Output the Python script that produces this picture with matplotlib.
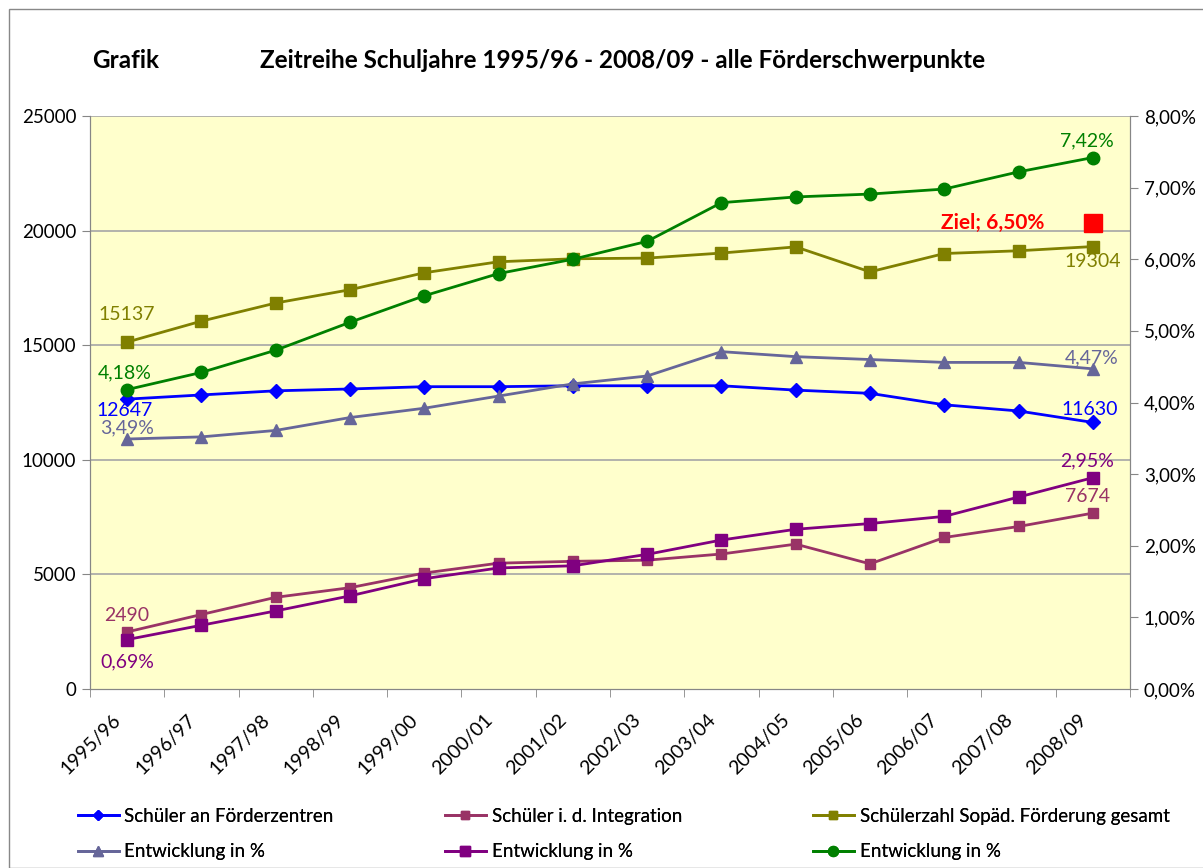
import matplotlib
matplotlib.use("Agg")
import matplotlib.pyplot as plt
from matplotlib.patches import Rectangle
from matplotlib.ticker import FuncFormatter, MultipleLocator, FixedLocator
from matplotlib.transforms import ScaledTranslation

plt.rcParams['font.family'] = ['Lato', 'DejaVu Sans']

years = ["1995/96", "1996/97", "1997/98", "1998/99", "1999/00", "2000/01", "2001/02",
         "2002/03", "2003/04", "2004/05", "2005/06", "2006/07", "2007/08", "2008/09"]
foerderzentren = [12647, 12830, 13010, 13090, 13190, 13190, 13230, 13230, 13230, 13040, 12900, 12400, 12130, 11630]
integration = [2490, 3250, 4000, 4420, 5060, 5490, 5570, 5620, 5890, 6320, 5460, 6610, 7090, 7674]
gesamt = [15137, 16050, 16840, 17420, 18160, 18640, 18770, 18800, 19020, 19290, 18200, 19000, 19120, 19304]
entw_fz = [3.49, 3.52, 3.61, 3.79, 3.92, 4.09, 4.26, 4.37, 4.71, 4.64, 4.60, 4.56, 4.56, 4.47]
entw_int = [0.69, 0.89, 1.09, 1.30, 1.54, 1.69, 1.72, 1.88, 2.08, 2.23, 2.31, 2.41, 2.68, 2.95]
entw_ges = [4.18, 4.42, 4.73, 5.12, 5.49, 5.80, 6.00, 6.25, 6.79, 6.87, 6.91, 6.98, 7.22, 7.42]
ziel_value = 6.50
ziel_index = 13

W, H = 1203, 868
fig = plt.figure(figsize=(W / 100, H / 100), dpi=100)
fig.patch.set_facecolor("white")
fig.add_artist(Rectangle((9 / W, 0), 1.5, 1 - 9 / H, transform=fig.transFigure,
                         fill=False, edgecolor="#888888", lw=1.0))

L, R, T, B = 90, 1130, 116, 689
ax = fig.add_axes([L / W, 1 - B / H, (R - L) / W, (B - T) / H])
ax.set_facecolor("#FFFFCC")
ax2 = ax.twinx()

x = list(range(len(years)))
ax.set_xlim(-0.5, len(years) - 0.5)
ax.set_ylim(0, 25000)
ax2.set_ylim(0, 8)

grid_c = "#A6A6A6"
for v in range(5000, 25001, 5000):
    ax.axhline(v, color=grid_c, lw=1.2, zorder=0)

tick_c = "#868686"
for a in (ax, ax2):
    for s in a.spines.values():
        s.set_color(tick_c)
ax.spines['top'].set_visible(False)
ax2.spines['top'].set_visible(False)

ax.yaxis.set_major_locator(MultipleLocator(5000))
ax.tick_params(axis='y', length=6, color=tick_c, labelsize=13.5, pad=4)
ax2.yaxis.set_major_locator(MultipleLocator(1))
ax2.yaxis.set_major_formatter(FuncFormatter(lambda v, p: f"{v:.2f}%".replace(".", ",")))
ax2.tick_params(axis='y', length=6, color=tick_c, labelsize=13.5, pad=4)

ax.xaxis.set_major_locator(FixedLocator(x))
ax.set_xticklabels(years, rotation=45, ha='right', va='top', rotation_mode='anchor', fontsize=14)
ax.tick_params(axis='x', which='major', length=0, pad=16)
shift = ScaledTranslation(-15 / 100, 0, fig.dpi_scale_trans)
for lab in ax.get_xticklabels():
    lab.set_transform(lab.get_transform() + shift)
ax.xaxis.set_minor_locator(FixedLocator([i - 0.5 for i in range(len(years) + 1)]))
ax.tick_params(axis='x', which='minor', length=6, color=tick_c)

c_blue = "#0000FF"
c_int = "#993366"
c_olive = "#808000"
c_gray = "#666699"
c_purple = "#800080"
c_green = "#008000"

lw = 2.0
l1, = ax.plot(x, foerderzentren, color=c_blue, lw=lw, marker='D', ms=7, zorder=3, label="Schüler an Förderzentren")
l2, = ax.plot(x, integration, color=c_int, lw=lw, marker='s', ms=7, zorder=3, label="Schüler i. d. Integration")
l3, = ax.plot(x, gesamt, color=c_olive, lw=lw, marker='s', ms=8, zorder=3, label="Schülerzahl Sopäd. Förderung gesamt")
l4, = ax2.plot(x, entw_fz, color=c_gray, lw=lw, marker='^', ms=9, zorder=3, label="Entwicklung in %")
l5, = ax2.plot(x, entw_int, color=c_purple, lw=lw, marker='s', ms=9, zorder=3, label="Entwicklung in %")
l6, = ax2.plot(x, entw_ges, color=c_green, lw=lw, marker='o', ms=9, zorder=3, label="Entwicklung in %")
ax2.plot([ziel_index], [ziel_value], marker='s', ms=13, color="#FF0000", ls='none', zorder=4)

fs = 14
def pct(v):
    return f"{v:.2f}%".replace(".", ",")

# data labels
ax.annotate(str(gesamt[0]), (0, gesamt[0]), xytext=(0, 14), textcoords='offset points',
            ha='center', va='bottom', color=c_olive, fontsize=fs)
ax.annotate(str(gesamt[-1]), (13, gesamt[-1]), xytext=(0, -5), textcoords='offset points',
            ha='center', va='top', color=c_olive, fontsize=fs)
ax.annotate(str(foerderzentren[0]), (0, foerderzentren[0]), xytext=(-2, -2), textcoords='offset points',
            ha='center', va='top', color=c_blue, fontsize=fs)
ax.annotate(str(foerderzentren[-1]), (13, foerderzentren[-1]), xytext=(-2, 3), textcoords='offset points',
            ha='center', va='bottom', color=c_blue, fontsize=fs)
ax.annotate(str(integration[0]), (0, integration[0]), xytext=(0, 6), textcoords='offset points',
            ha='center', va='bottom', color=c_int, fontsize=fs)
ax.annotate(str(integration[-1]), (13, integration[-1]), xytext=(-4, 6), textcoords='offset points',
            ha='center', va='bottom', color=c_int, fontsize=fs)
ax2.annotate(pct(entw_ges[0]), (0, entw_ges[0]), xytext=(-2, 6), textcoords='offset points',
             ha='center', va='bottom', color=c_green, fontsize=fs)
ax2.annotate(pct(entw_ges[-1]), (13, entw_ges[-1]), xytext=(-4, 6), textcoords='offset points',
             ha='center', va='bottom', color=c_green, fontsize=fs)
ax2.annotate(pct(entw_fz[0]), (0, entw_fz[0]), xytext=(0, 2), textcoords='offset points',
             ha='center', va='bottom', color=c_gray, fontsize=fs)
ax2.annotate(pct(entw_fz[-1]), (13, entw_fz[-1]), xytext=(-1, 2), textcoords='offset points',
             ha='center', va='bottom', color=c_gray, fontsize=fs)
ax2.annotate(pct(entw_int[0]), (0, entw_int[0]), xytext=(0, -10), textcoords='offset points',
             ha='center', va='top', color=c_purple, fontsize=fs)
ax2.annotate(pct(entw_int[-1]), (13, entw_int[-1]), xytext=(-4, 6), textcoords='offset points',
             ha='center', va='bottom', color=c_purple, fontsize=fs)
ax2.annotate("Ziel; " + pct(ziel_value), (ziel_index, ziel_value), xytext=(-35, 0), textcoords='offset points',
             ha='right', va='center', color="#FF0000", fontsize=15, fontweight='bold')

# titles
fig.text(92 / W, 1 - 61 / H, "Grafik", fontsize=17.5, fontweight='bold', va='center', ha='left')
fig.text(260 / W, 1 - 61 / H, "Zeitreihe Schuljahre 1995/96 - 2008/09 - alle Förderschwerpunkte",
         fontsize=17.5, fontweight='bold', va='center', ha='left')

# legend: three columns placed individually
columns = [([l1, l4], 72), ([l2, l5], 439), ([l3, l6], 807)]
for handles, xpx in columns:
    lg = fig.legend(handles=handles, labels=[h.get_label() for h in handles],
                    loc='center left', bbox_to_anchor=(xpx / W, 1 - 834 / H),
                    frameon=False, fontsize=13.5, handlelength=2.2, handletextpad=0.3,
                    labelspacing=1.0, markerscale=0.8, borderaxespad=0, borderpad=0.3)
    fig.add_artist(lg)

fig.savefig("out.png", dpi=100, facecolor=fig.get_facecolor())
